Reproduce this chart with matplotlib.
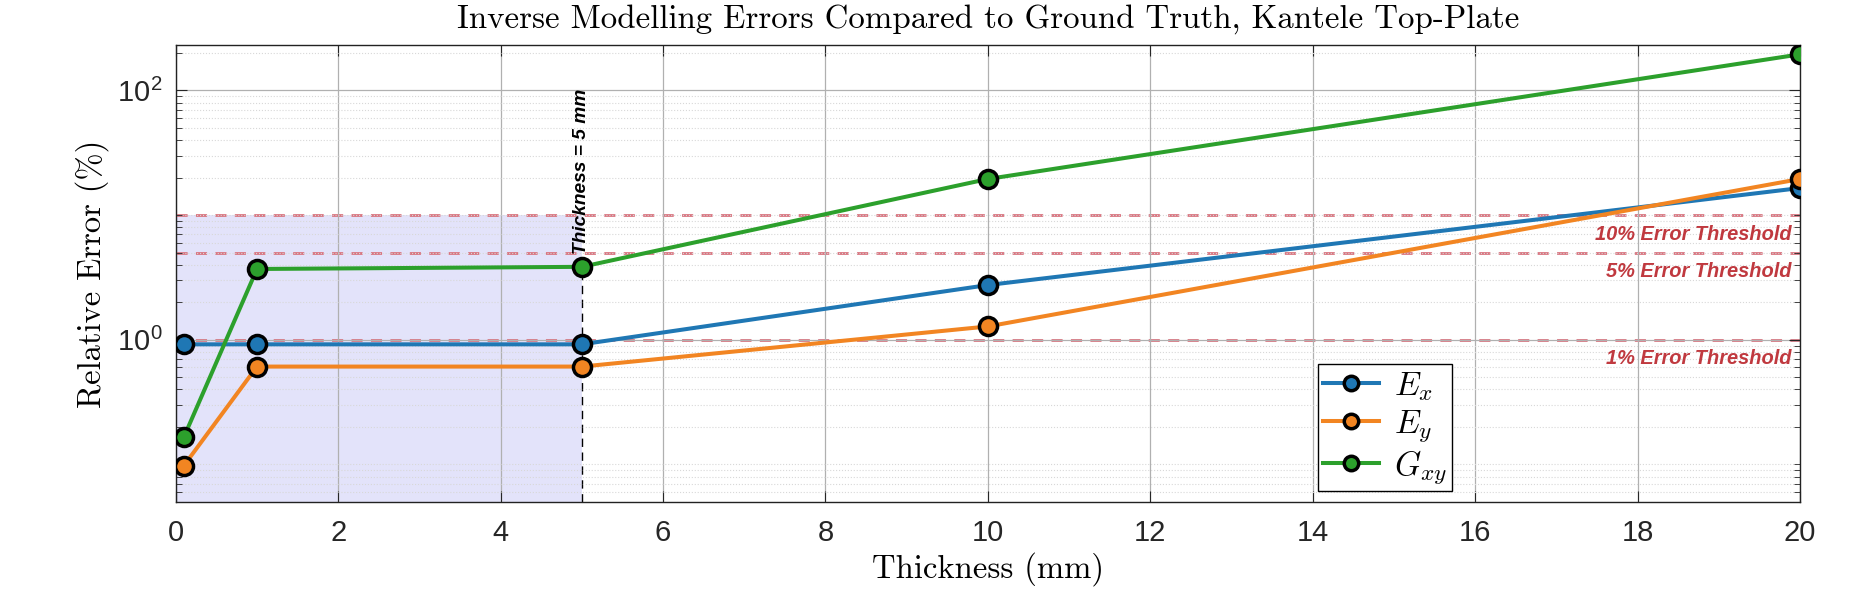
import numpy as np
import matplotlib
matplotlib.use("Agg")
import matplotlib.pyplot as plt
from matplotlib.ticker import FixedLocator, NullFormatter

# Data
thickness = [0.1, 1, 5, 10, 20]
err_ex = [0.92, 0.92, 0.92, 2.75, 16.5]
err_ey = [0.098, 0.61, 0.61, 1.28, 19.5]
err_gxy = [0.166, 3.7, 3.85, 19.5, 195]
series_names = [r'$E_x$', r'$E_y$', r'$G_{xy}$']
series_colors = ['#1f77b4', '#f28522', '#2ca02c']

thresholds = [10, 5, 1]
threshold_labels = ['10% Error Threshold', '5% Error Threshold', '1% Error Threshold']
marked_thickness = 5

# sans digits for ticks, CM italic for the legend symbols
plt.rcParams['mathtext.fontset'] = 'custom'
plt.rcParams['mathtext.rm'] = 'Liberation Sans'
plt.rcParams['mathtext.it'] = 'cmmi10'
plt.rcParams['mathtext.bf'] = 'Liberation Sans:bold'
plt.rcParams['axes.unicode_minus'] = False

fig = plt.figure(figsize=(18.74, 6.03), dpi=100)
ax = fig.add_axes([0.0938, 0.1675, 0.8667, 0.7572])

ylo, yhi = 0.05, 230

# shaded region below 10% for thin plates
ax.fill_between([0, marked_thickness], ylo, thresholds[0], color='#e3e3fa', zorder=0.5, lw=0)

# threshold lines
for thr, lab in zip(thresholds, threshold_labels):
    ax.axhline(thr, color='#d9737f', ls=(0, (4, 3)), lw=2, zorder=1)
    ax.annotate(lab, (19.9, thr), xytext=(0, -19), textcoords='offset pixels',
                ha='right', va='center', color='#c0393f', fontsize=14.4,
                fontweight='bold', fontstyle='italic', family='Liberation Sans')

# marker line at 5 mm
ax.plot([marked_thickness, marked_thickness], [ylo, 4.9], color='k', ls=(0, (6, 4)), lw=1, zorder=1.5)
ax.text(marked_thickness, 4.9, 'Thickness = 5 mm', rotation=90, ha='center', va='bottom',
        fontsize=13.8, fontweight='bold', fontstyle='italic', family='Liberation Sans')

for ys, name, c in zip([err_ex, err_ey, err_gxy], series_names, series_colors):
    ax.plot(thickness, ys, '-o', color=c, lw=2.9, ms=13, mfc=c, mec='k', mew=2.5,
            label=name, zorder=3)

ax.set_yscale('log')
ax.set_xlim(0, 20)
ax.set_ylim(ylo, yhi)
ax.set_xticks(np.arange(0, 21, 2))
ax.yaxis.set_major_locator(FixedLocator([1, 100]))
minor = [m * 10.0**e for e in range(-2, 3) for m in range(1, 10)]
minor = [v for v in minor if v not in (1, 100)]
ax.yaxis.set_minor_locator(FixedLocator(minor))
ax.yaxis.set_minor_formatter(NullFormatter())
ax.set_yticklabels([r'$10^{0}$', r'$10^{2}$'])

ax.grid(True, which='major', color='#b0b0b0', lw=0.9)
ax.grid(True, which='minor', axis='y', color='#d8d8d8', ls=':', lw=0.8)
ax.tick_params(which='both', direction='in', top=True, right=True, labelsize=21,
               colors='#262626')
ax.tick_params(axis='x', pad=12)
ax.tick_params(axis='y', pad=9)
ax.tick_params(which='major', length=8)
ax.tick_params(which='minor', length=4)
for lbl in ax.get_xticklabels():
    lbl.set_family('Liberation Sans')
for s in ax.spines.values():
    s.set_linewidth(1.0)
    s.set_color('#222222')

ax.set_title('Inverse Modelling Errors Compared to Ground Truth, Kantele Top-Plate',
             family='cmr10', fontsize=23.7, pad=13)
ax.set_xlabel('Thickness (mm)', family='cmr10', fontsize=23.5, labelpad=4)
ax.set_ylabel('Relative Error (%)', family='cmr10', fontsize=23.5, labelpad=6)

leg = ax.legend(loc='upper left', bbox_to_anchor=(0.703, 0.302), fontsize=24,
                frameon=True, fancybox=False, edgecolor='k', framealpha=1,
                handlelength=1.7, handletextpad=0.45, borderpad=0.15, labelspacing=0.12,
                borderaxespad=0, markerscale=0.8)
leg.get_frame().set_linewidth(1.0)

fig.savefig('out.png', dpi=100)
